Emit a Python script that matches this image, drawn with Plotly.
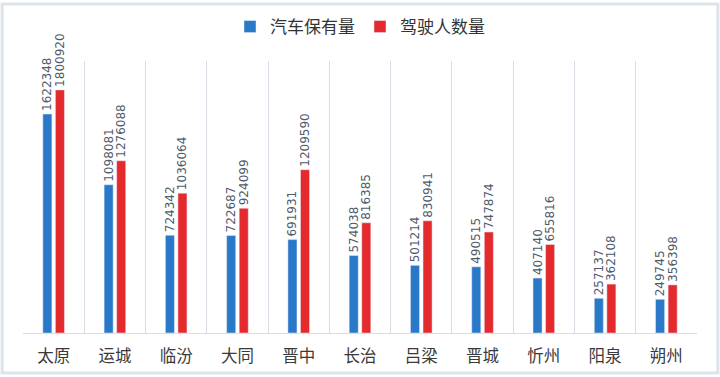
import plotly.graph_objects as go

cities = ["太原", "运城", "临汾", "大同", "晋中", "长治", "吕梁", "晋城", "忻州", "阳泉", "朔州"]
cars = [1622348, 1098081, 724342, 722687, 691931, 574038, 501214, 490515, 407140, 257137, 249745]
drivers = [1800920, 1276088, 1036064, 924099, 1209590, 816385, 830941, 747874, 655816, 362108, 356398]

label_font = dict(size=12, color="#4f5b6b", family="DejaVu Sans")

fig = go.Figure()
fig.add_bar(name="汽车保有量", x=cities, y=cars, marker_color="#2a78c8",
            text=[str(v) for v in cars], textposition="outside", textangle=-90,
            constraintext="none", textfont=label_font, cliponaxis=False)
fig.add_bar(name="驾驶人数量", x=cities, y=drivers, marker_color="#e42a2c",
            text=[str(v) for v in drivers], textposition="outside", textangle=-90,
            constraintext="none", textfont=label_font, cliponaxis=False)

fig.update_layout(
    width=720, height=377,
    margin=dict(l=23, r=23, t=61, b=44, autoexpand=False),
    paper_bgcolor="white", plot_bgcolor="white",
    barmode="group", bargap=0.59, bargroupgap=0.28,
    legend=dict(orientation="h", x=0.5, xanchor="center", y=1.125, yanchor="middle",
                font=dict(size=17, color="#333", family="Noto Sans CJK SC"),
                traceorder="normal", itemwidth=30),
    font=dict(family="Noto Sans CJK SC"),
    shapes=[dict(type="rect", xref="paper", yref="paper", x0=-0.031, x1=1.031, y0=-0.147, y1=1.21,
                 line=dict(color="#dde3ec", width=3), fillcolor="rgba(0,0,0,0)", layer="below")],
)
fig.update_xaxes(type="category", tickson="boundaries", showgrid=True, gridcolor="#d9dee6", gridwidth=1,
                 showline=True, linecolor="#d9dee6", ticks="", ticklabelstandoff=8,
                 tickfont=dict(size=16.5, color="#3a3a3a", family="Noto Sans CJK SC"))
fig.update_yaxes(range=[0, 2015000], showgrid=False, showticklabels=False, zeroline=False, showline=False)

fig.write_html("out.html", config={"displayModeBar": False},
               post_script="document.body.style.margin='0';")
